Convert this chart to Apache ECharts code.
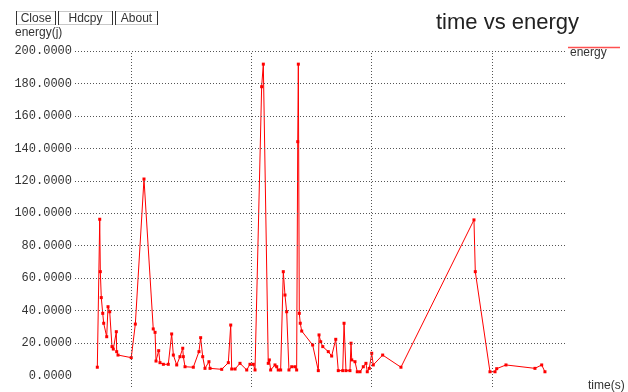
<!DOCTYPE html>
<html>
<head>
<meta charset="utf-8">
<script src="https://cdn.jsdelivr.net/npm/echarts@6/dist/echarts.min.js"></script>
<style>html,body{margin:0;padding:0;background:#fff;}#c{width:628px;height:392px;}</style>
</head>
<body>
<div id="c"></div>
<script>
// time (arbitrary axis units, grid lines every 100) and energy (j)
var times = [72.0,74.0,74.5,75.3,76.5,77.3,79.8,80.9,82.3,84.2,
  85.3,87.8,88.1,89.2,100.2,103.6,110.8,118.5,120.0,120.8,
  123.0,124.1,126.9,131.0,133.8,135.2,138.0,140.7,143.0,143.5,
  144.9,151.8,156.5,157.9,159.6,161.5,164.8,165.7,175.4,180.9,
  182.9,183.7,186.5,190.6,196.2,198.9,201.7,203.1,208.6,210.0,
  214.1,215.0,216.1,219.7,221.1,222.4,224.4,226.6,228.0,229.4,
  231.3,233.6,236.3,237.7,238.6,239.1,239.9,240.7,241.9,251.0,
  255.7,256.3,257.7,259.4,264.0,266.8,270.2,272.3,276.0,277.1,
  278.7,282.0,282.9,283.5,286.2,288.1,290.4,293.1,295.3,296.4,
  298.1,300.1,301.4,309.2,324.4,385.1,386.2,398.4,402.6,404.0,
  411.7,435.8,441.4,444.1];
var energy = [5.1,96.3,64.0,48.0,38.3,32.2,23.9,42.4,39.3,17.8,
  16.3,27.0,14.7,12.6,11.0,31.7,121.1,28.7,26.6,8.9,
  15.3,7.9,6.9,6.9,25.6,12.6,6.5,11.6,16.8,11.6,
  5.4,5.1,14.7,23.3,11.6,4.4,8.5,4.4,3.8,7.9,
  31.1,4.0,4.0,7.5,3.4,6.9,6.9,3.4,178.0,191.9,
  7.5,9.6,3.4,6.5,5.4,3.4,3.4,64.0,49.6,39.3,
  3.4,5.4,5.4,3.4,144.1,191.9,38.3,32.2,27.4,18.8,
  3.0,25.0,20.8,17.8,14.7,12.0,22.3,3.0,3.0,32.2,
  3.0,3.0,19.9,9.6,8.5,2.3,2.3,5.4,7.5,2.3,
  4.4,13.7,6.5,12.6,5.1,95.9,64.0,2.3,2.3,4.2,
  6.5,4.4,6.5,2.3];
var yTicks = [0,20,40,60,80,100,120,140,160,180,200];
var xGridValues = [100,200,300,400];
var buttons = ['Close','Hdcpy','About'];
var titleText = 'time vs energy';
var seriesName = 'energy';
var yName = 'energy(j)';
var xName = 'time(s)';

var data = times.map(function(t,i){return [t, energy[i]];});
var gridMarks = xGridValues.map(function(v){return {xAxis:v};})
  .concat(yTicks.filter(function(v){return v>0;}).map(function(v){return {yAxis:v};}));

var btnBoxes = [[16.5,55.5],[58.5,112.5],[115.5,157.5]];
var graphics = [];
buttons.forEach(function(b,i){
  var x0 = btnBoxes[i][0], x1 = btnBoxes[i][1];
  graphics.push({type:'rect', shape:{x:x0,y:11.5,width:x1-x0,height:13}, style:{fill:'#fff',stroke:'#c8c8c8',lineWidth:1}});
  graphics.push({type:'line', shape:{x1:x0,y1:11,x2:x0,y2:25}, style:{stroke:'#333',lineWidth:1}});
  graphics.push({type:'line', shape:{x1:x1,y1:11,x2:x1,y2:25}, style:{stroke:'#333',lineWidth:1}});
  graphics.push({type:'text', x:(x0+x1)/2, y:18.5, style:{text:b, align:'center', verticalAlign:'middle', font:'12px "Liberation Sans"', fill:'#333'}});
});
graphics.push({type:'text', x:15, y:33, style:{text:yName, align:'left', verticalAlign:'middle', font:'12px "Liberation Sans"', fill:'#333'}});
graphics.push({type:'text', x:436, y:23, style:{text:titleText, align:'left', verticalAlign:'middle', font:'22px "Liberation Sans"', fill:'#222'}});
graphics.push({type:'line', shape:{x1:568,y1:47.5,x2:620,y2:47.5}, style:{stroke:'#ff5050',lineWidth:1.5}});
graphics.push({type:'text', x:570, y:53, style:{text:seriesName, align:'left', verticalAlign:'middle', font:'12px "Liberation Sans"', fill:'#333'}});
graphics.push({type:'text', x:588, y:386, style:{text:xName, align:'left', verticalAlign:'middle', font:'12px "Liberation Sans"', fill:'#333'}});

var chart = echarts.init(document.getElementById('c'), null, {renderer:'canvas'});
chart.setOption({
  animation:false,
  backgroundColor:'#fff',
  grid:{left:75, right:62, top:51, bottom:5, containLabel:false},
  xAxis:{type:'value', min:53.45, max:461.6, axisLine:{show:false}, axisTick:{show:false}, axisLabel:{show:false}, splitLine:{show:false}},
  yAxis:{type:'value', min:-7.09, max:200, axisLine:{show:false}, axisTick:{show:false}, splitLine:{show:false},
    axisLabel:{customValues:yTicks, formatter:function(v){return v.toFixed(4);}, margin:3,
      fontFamily:'Liberation Mono', fontSize:12, color:'#333'}},
  graphic:graphics,
  series:[
    {type:'line', name:'grid', data:[], z:1, silent:true,
      markLine:{silent:true, symbol:['none','none'], label:{show:false},
        lineStyle:{color:'#555', type:[1,2], width:1}, emphasis:{disabled:true}, data:gridMarks}},
    {type:'line', name:seriesName, data:data, z:2, symbol:'rect', symbolSize:3, showSymbol:true,
      lineStyle:{color:'#ff0000', width:1}, itemStyle:{color:'#ff0000'}}
  ]
});
</script>
</body>
</html>
